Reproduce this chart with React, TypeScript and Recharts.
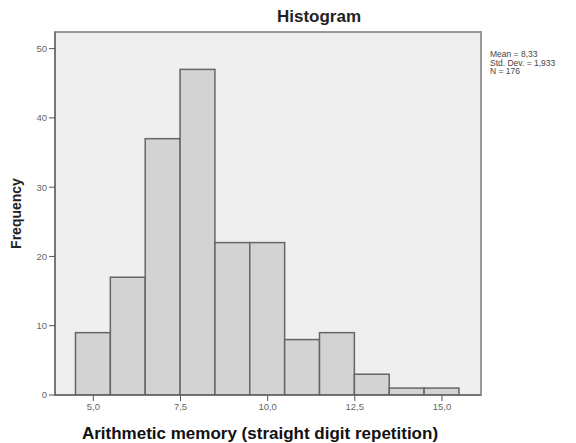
import * as React from "react";
import { ComposedChart, Bar, XAxis, YAxis, CartesianGrid, ReferenceArea } from "recharts";

// bin centres (width 1) and frequencies
const binCenters = [5, 6, 7, 8, 9, 10, 11, 12, 13, 14, 15];
const frequencies = [9, 17, 37, 47, 22, 22, 8, 9, 3, 1, 1];
const xTicks = [5, 7.5, 10, 12.5, 15];
const yTicks = [0, 10, 20, 30, 40, 50];
const statsLines = ["Mean = 8,33", "Std. Dev. = 1,933", "N = 176"];

const data = binCenters.map((c, i) => ({ x: c, count: frequencies[i] }));

const font = "'Liberation Sans', Arial, sans-serif";
const fmt = (v: number) => v.toFixed(1).replace(".", ",");

const X_DOMAIN: [number, number] = [3.9, 16.12];
const PLOT_W = 576 - 95 - 55;
const BIN_PX = PLOT_W / (X_DOMAIN[1] - X_DOMAIN[0]);

// histogram bars touch each other: widen each rect to one full bin
const HistBar = (props: any) => {
  const { x, y, width, height } = props;
  if (!height) return null;
  const cx = x + width / 2;
  return <rect x={cx - BIN_PX / 2} y={y} width={BIN_PX} height={height} fill="#d3d3d3" stroke="#666" strokeWidth={1.5} />;
};

export default function App() {
  return (
    <div style={{ position: "absolute", left: 0, top: 0, width: 576, height: 443, background: "#fff", fontFamily: font }}>
      <div style={{ position: "absolute", left: 0, width: 638, top: 7, textAlign: "center", fontSize: 17, fontWeight: "bold", color: "#222" }}>
        Histogram
      </div>
      <ComposedChart width={576} height={443} data={data} barCategoryGap={0} barGap={0} margin={{ top: 32, right: 95, bottom: 0, left: 0 }}>
        <CartesianGrid horizontal={false} vertical={false} fill="#efefef" />
        <ReferenceArea x1={X_DOMAIN[0]} x2={X_DOMAIN[1]} y1={0} y2={52.4} stroke="#999" strokeWidth={2} fillOpacity={0} />
        <XAxis
          dataKey="x"
          type="number"
          domain={X_DOMAIN}
          ticks={xTicks}
          tickFormatter={fmt}
          allowDataOverflow
          height={48}
          stroke="#555"
          tickSize={6}
          tick={{ fontSize: 9.5, fill: "#666", fontFamily: font }}
          label={{ value: "Arithmetic memory (straight digit repetition)", position: "insideBottom", offset: 4, dx: -8, style: { fontSize: 17, fontWeight: "bold", fill: "#111", fontFamily: font } }}
        />
        <YAxis
          type="number"
          domain={[0, 52.4]}
          ticks={yTicks}
          allowDataOverflow
          width={55}
          stroke="#555"
          tickSize={6}
          tick={{ fontSize: 9.5, fill: "#666", fontFamily: font }}
          label={{ value: "Frequency", angle: -90, position: "insideLeft", offset: 16, style: { fontSize: 14, fontWeight: "bold", fill: "#222", fontFamily: font, textAnchor: "middle" } }}
        />
        <Bar dataKey="count" barSize={30} shape={HistBar} isAnimationActive={false} />
      </ComposedChart>
      <div style={{ position: "absolute", left: 490, top: 50, fontSize: 8.5, lineHeight: "8.7px", color: "#444" }}>
        {statsLines.map((s) => (
          <div key={s}>{s}</div>
        ))}
      </div>
    </div>
  );
}
